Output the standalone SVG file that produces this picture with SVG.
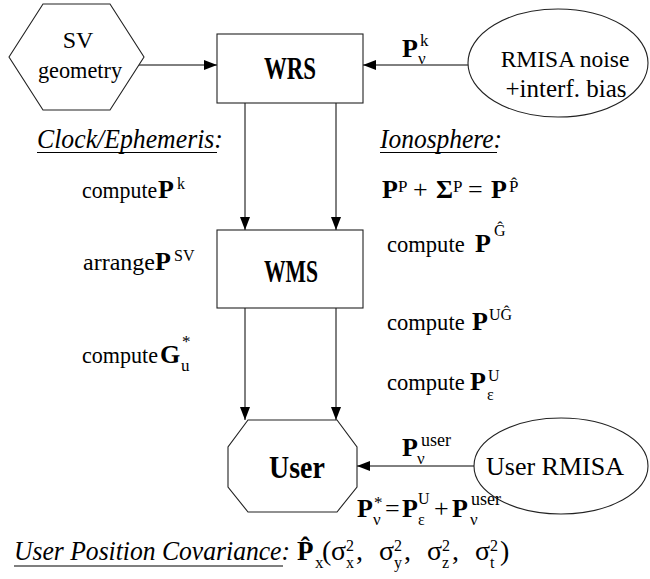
<svg xmlns="http://www.w3.org/2000/svg" width="650" height="579" viewBox="0 0 650 579" font-family="Liberation Serif">
<defs>
<marker id="ah" markerUnits="userSpaceOnUse" markerWidth="13" markerHeight="10" refX="13" refY="5" orient="auto"><path d="M0,0 L13,5 L0,10 z" fill="#000"/></marker>
</defs>
<style>
text { font-family: "Liberation Serif", "Times New Roman", serif; fill:#000; }
.n { font-size:24px; }
.lb { font-size:31px; font-weight:bold; }
.it { font-size:28px; font-style:italic; }
.shape { fill:#fff; stroke:#222; stroke-width:1.1; }
.conn line { stroke:#000; stroke-width:1; marker-end:url(#ah); }
.m { font-size:26px; font-weight:bold; }
.r { font-size:26px; }
.rb { font-size:28px; }
.s { font-size:16px; }
.s17 { font-size:17px; }
.s18 { font-size:18px; }
.ul { stroke:#000; stroke-width:1.2; }
</style>
<rect width="650" height="579" fill="#fff"/>

<g id="connectors" class="conn">
 <line x1="139" y1="65" x2="217" y2="65"/>
 <line x1="468" y1="65" x2="363" y2="65"/>
 <line x1="245" y1="103" x2="245" y2="230"/>
 <line x1="336" y1="103" x2="336" y2="230"/>
 <line x1="245" y1="308" x2="245" y2="420"/>
 <line x1="336" y1="308" x2="336" y2="420"/>
 <line x1="475" y1="466" x2="357" y2="466"/>
</g>

<g id="sv-geometry">
 <polygon class="shape" points="9,57 43,4 110,4 144,57 110,110 43,110"/>
 <text class="n" x="78" y="48" text-anchor="middle">SV</text>
 <text class="n" transform="translate(80,78) scale(0.93,1)" text-anchor="middle">geometry</text>
</g>

<g id="wrs">
 <rect class="shape" x="217" y="34" width="146" height="69"/>
 <text class="lb" transform="translate(290,79) scale(0.74,1)" text-anchor="middle">WRS</text>
</g>

<g id="rmisa-noise">
 <ellipse class="shape" cx="558" cy="63" rx="90" ry="54"/>
 <text class="n" transform="translate(565,67) scale(0.98,1)" text-anchor="middle">RMISA noise</text>
 <text class="n" style="font-size:25px" x="566" y="97" text-anchor="middle">+interf. bias</text>
</g>

<g id="wms">
 <rect class="shape" x="217" y="230" width="146" height="78"/>
 <text class="lb" transform="translate(291,282) scale(0.70,1)" text-anchor="middle">WMS</text>
</g>

<g id="user">
 <polygon class="shape" points="248,420 337,420 357,447 357,487 337,512 248,512 228,487 228,447"/>
 <text class="lb" transform="translate(297,478) scale(0.9,1)" text-anchor="middle">User</text>
</g>

<g id="user-rmisa">
 <ellipse class="shape" cx="561" cy="466" rx="87" ry="48"/>
 <text class="n" style="font-size:26px" x="555" y="475" text-anchor="middle">User RMISA</text>
</g>

<g id="labels">
 <text class="m" x="402" y="57">P</text>
 <text class="s17" x="420" y="46">k</text>
 <text class="s17" x="418" y="64">ν</text>

 <text class="it" transform="translate(37,148) scale(0.92,1)">Clock/Ephemeris:</text>
 <line class="ul" x1="37" y1="152.5" x2="217" y2="152.5"/>

 <text class="n" transform="translate(82,198) scale(0.91,1)">compute</text>
 <text class="m" x="158" y="198">P</text>
 <text class="s" x="177" y="189">k</text>

 <text class="n" x="83" y="270">arrange</text>
 <text class="m" x="155" y="270">P</text>
 <text class="s" x="174" y="261">SV</text>

 <text class="n" transform="translate(82,363) scale(0.92,1)">compute</text>
 <text class="m" x="160" y="363">G</text>
 <text class="s17" x="182" y="347">*</text>
 <text class="s17" x="181" y="371">u</text>

 <text class="it" transform="translate(380,148) scale(0.91,1)">Ionosphere:</text>
 <line class="ul" x1="380" y1="152.5" x2="497" y2="152.5"/>

 <text class="m" x="382" y="198">P</text>
 <text class="s17" x="398" y="192">P</text>
 <text class="r" x="413" y="198">+</text>
 <text class="m" x="436" y="198">Σ</text>
 <text class="s17" x="453" y="192">P</text>
 <text class="r" x="468" y="198">=</text>
 <text class="m" x="491" y="198">P</text>
 <text class="s17" x="509" y="192">P̂</text>

 <text class="n" transform="translate(387,252) scale(0.94,1)">compute</text>
 <text class="m" x="475" y="252">P</text>
 <text class="s" x="494" y="236">Ĝ</text>

 <text class="n" transform="translate(387,330) scale(0.94,1)">compute</text>
 <text class="m" x="472" y="330">P</text>
 <text class="s" x="489" y="320">UĜ</text>

 <text class="n" transform="translate(387,390) scale(0.94,1)">compute</text>
 <text class="m" x="470" y="390">P</text>
 <text class="s" x="488" y="381">U</text>
 <text class="s" x="487" y="400">ε</text>

 <text class="m" x="402" y="456">P</text>
 <text class="s18" x="421" y="446">user</text>
 <text class="s17" x="417" y="464">ν</text>

 <text class="m" x="357" y="517">P</text>
 <text class="s17" x="374" y="508">*</text>
 <text class="s17" x="373" y="525">ν</text>
 <text class="r" x="385" y="517">=</text>
 <text class="m" x="402" y="517">P</text>
 <text class="s" x="418" y="504">U</text>
 <text class="s" x="418" y="525">ε</text>
 <text class="r" x="434" y="517">+</text>
 <text class="m" x="452" y="517">P</text>
 <text class="s18" x="471" y="505">user</text>
 <text class="s17" x="470" y="525">ν</text>

 <text class="it" transform="translate(14,560) scale(0.915,1)">User Position Covariance:</text>
 <line class="ul" x1="14" y1="566" x2="283" y2="566"/>
 <text class="m" style="font-size:27px" x="297" y="560">P̂</text>
 <text class="s17" x="315" y="568">x</text>
 <text class="rb" x="322" y="560">(</text>
 <text class="rb" x="331" y="560">σ</text>
 <text class="s" x="346" y="568">x</text>
 <text class="s" x="346" y="551">2</text>
 <text class="rb" x="356" y="560">,</text>
 <text class="rb" x="379" y="560">σ</text>
 <text class="s" x="394" y="568">y</text>
 <text class="s" x="394" y="551">2</text>
 <text class="rb" x="404" y="560">,</text>
 <text class="rb" x="427" y="560">σ</text>
 <text class="s" x="442" y="568">z</text>
 <text class="s" x="442" y="551">2</text>
 <text class="rb" x="452" y="560">,</text>
 <text class="rb" x="475" y="560">σ</text>
 <text class="s" x="490" y="568">t</text>
 <text class="s" x="490" y="551">2</text>
 <text class="rb" x="500" y="560">)</text>
</g>
</svg>
